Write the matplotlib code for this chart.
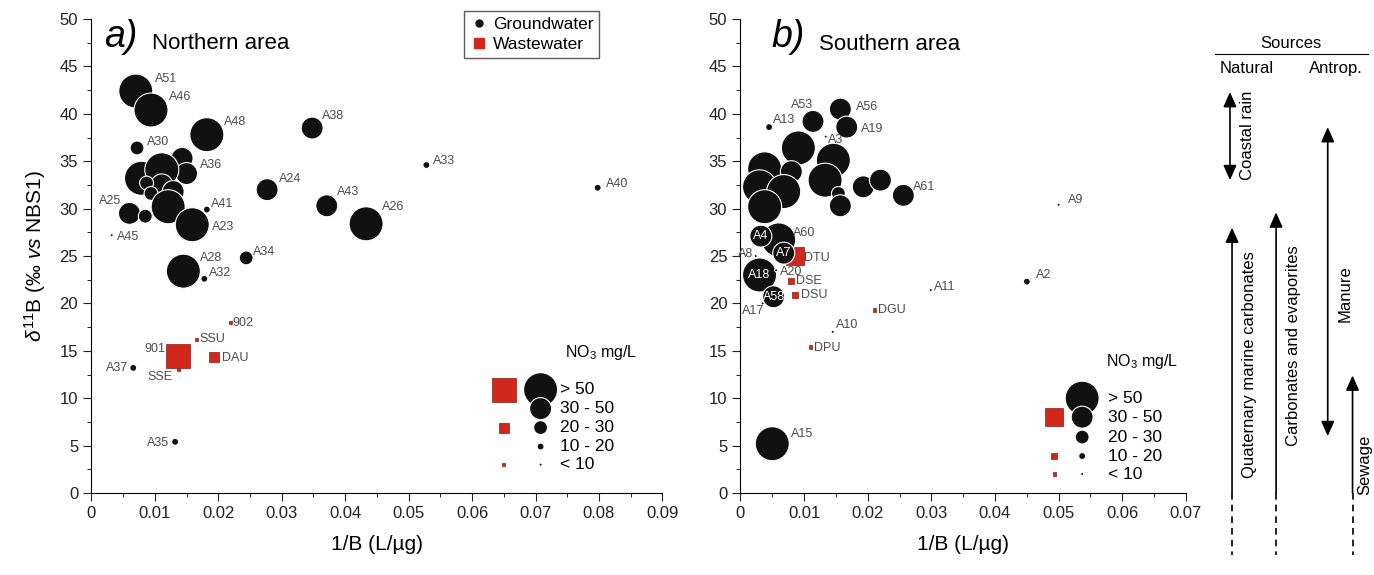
import numpy as np
import matplotlib.pyplot as plt
from matplotlib.ticker import MultipleLocator, FuncFormatter
from matplotlib.lines import Line2D

plt.rcParams['font.family'] = ['Liberation Sans', 'DejaVu Sans']
plt.rcParams['mathtext.fontset'] = 'custom'
plt.rcParams['mathtext.rm'] = 'Liberation Sans'
plt.rcParams['mathtext.it'] = 'Liberation Sans:italic'

# NO3 classes (index used by the points below)
no3_classes = ['> 50', '30 - 50', '20 - 30', '10 - 20', '< 10']

# ---- a) Northern area ----
gw_a_lab = ['A51', 'A46', 'A48', 'A38', 'A30', '', 'A36', '', '', '', '', '', '', '',
            'A25', '', 'A41', 'A23', 'A45', 'A28', 'A32', 'A34', 'A24', 'A43', 'A26',
            'A33', 'A40', 'A37', 'A35']
gw_a_x = [0.0070, 0.0094, 0.0182, 0.0348, 0.0072, 0.0143, 0.0150, 0.0079, 0.0111, 0.0111,
          0.0087, 0.0094, 0.0129, 0.0121, 0.0060, 0.0085, 0.0182, 0.0159, 0.0032, 0.0145,
          0.0178, 0.0244, 0.0277, 0.0371, 0.0433, 0.0528, 0.0798, 0.0066, 0.0132]
gw_a_y = [42.4, 40.4, 37.8, 38.5, 36.4, 35.3, 33.7, 33.2, 34.1, 32.5, 32.7, 31.6, 31.8, 30.2,
          29.5, 29.2, 29.9, 28.3, 27.2, 23.4, 22.6, 24.8, 32.0, 30.3, 28.4, 34.6, 32.2,
          13.2, 5.4]
gw_a_cls = [0, 0, 0, 1, 2, 1, 1, 0, 0, 1, 2, 2, 1, 0, 1, 2, 3, 0, 4, 0, 3, 2, 1, 1, 0,
            3, 3, 3, 3]

ww_a_lab = ['902', 'SSU', '901', 'DAU', 'SSE']
ww_a_x = [0.0219, 0.0165, 0.0136, 0.0194, 0.0137]
ww_a_y = [18.0, 16.2, 14.5, 14.3, 13.0]
ww_a_cls = [4, 4, 0, 2, 4]

# ---- b) Southern area ----
gw_b_lab = ['A8', 'A17', 'A13', 'A53', 'A56', 'A19', '', '', '', '', '', '', '', '', '',
            '', '', 'A61', '', 'A60', 'A4', 'A7', 'A18', 'A20', 'A58', 'A3', 'A11', 'A10',
            'A15', 'A2', 'A9']
gw_b_x = [0.0024, 0.0035, 0.0045, 0.0114, 0.0157, 0.0167, 0.0091, 0.0146, 0.0038, 0.0080,
          0.0133, 0.0030, 0.0068, 0.0154, 0.0157, 0.0193, 0.0220, 0.0256, 0.0038, 0.0060,
          0.0032, 0.0068, 0.0030, 0.0056, 0.0052, 0.0134, 0.0299, 0.0145, 0.0050, 0.0450,
          0.0500]
gw_b_y = [25.0, 20.0, 38.6, 39.2, 40.5, 38.6, 36.4, 35.1, 34.2, 33.9, 33.0, 32.3, 31.8,
          31.6, 30.3, 32.3, 33.0, 31.4, 30.2, 26.7, 27.1, 25.3, 23.0, 23.5, 20.7, 37.6,
          21.4, 17.0, 5.2, 22.3, 30.4]
gw_b_cls = [4, 4, 3, 1, 1, 1, 0, 0, 0, 1, 0, 0, 0, 2, 1, 1, 1, 1, 0, 0, 1, 1, 0, 4, 1, 4,
            4, 4, 0, 3, 4]

ww_b_lab = ['DTU', 'DSE', 'DSU', 'DGU', 'DPU']
ww_b_x = [0.0086, 0.0080, 0.0085, 0.0210, 0.0110]
ww_b_y = [25.0, 22.4, 20.9, 19.3, 15.4]
ww_b_cls = [1, 3, 3, 4, 4]

# ---- sources (d11B ranges) ----
src_names = ['Coastal rain', 'Quaternary marine carbonates', 'Carbonates and evaporites',
             'Manure', 'Sewage']
src_low = [33.0, 0.0, 0.0, 6.0, 0.0]
src_high = [42.3, 28.0, 29.6, 38.6, 12.4]
src_both = [True, False, False, True, False]

# ---- styles ----
circ_s = [600, 250, 100, 25, 5]
sq_s = [300, 168, 52, 19, 5]
red = '#d2281c'
lab_col = '#4a4a4a'

lab_off = {
    'A51': (19, 12, 'left'), 'A46': (18, 13, 'left'), 'A48': (17, 13, 'left'),
    'A38': (10, 12, 'left'), 'A30': (10, 6, 'left'), 'A36': (13, 9, 'left'),
    'A24': (12, 11, 'left'), 'A43': (10, 14, 'left'), 'A25': (-8, 12, 'right'),
    'A41': (4, 6, 'left'), 'A23': (20, -2, 'left'), 'A45': (5, -2, 'left'),
    'A28': (17, 13, 'left'), 'A32': (5, 6, 'left'), 'A34': (7, 6, 'left'),
    'A33': (7, 4, 'left'), 'A40': (8, 4, 'left'), 'A26': (16, 17, 'left'),
    'A37': (-5, 0, 'right'), 'A35': (-6, -1, 'right'), '902': (2, -1, 'left'),
    'SSU': (3, 0, 'left'), '901': (-12, 7, 'right'), 'DAU': (8, -1, 'left'),
    'SSE': (-6, -7, 'right'),
    'A13': (4, 7, 'left'), 'A53': (0, 16, 'right'), 'A56': (16, 2, 'left'),
    'A19': (14, -2, 'left'), 'A3': (2, -3, 'left'), 'A61': (10, 8, 'left'),
    'A60': (14, 7, 'left'), 'DTU': (9, -2, 'left'), 'A8': (-3, 2, 'right'),
    'A20': (4, -2, 'left'), 'DSE': (5, 0, 'left'), 'DSU': (6, 0, 'left'),
    'A17': (2, -8, 'right'), 'A11': (3, 3, 'left'), 'DGU': (4, 0, 'left'),
    'A10': (3, 7, 'left'), 'DPU': (4, -1, 'left'), 'A15': (19, 10, 'left'),
    'A2': (9, 7, 'left'), 'A9': (9, 5, 'left'),
}
inside = {'A4', 'A7', 'A18', 'A58'}

fig = plt.figure(figsize=(13.74, 5.75), dpi=100)
axa = fig.add_axes([0.0665, 0.1426, 0.4156, 0.8243])
axb = fig.add_axes([0.5389, 0.1426, 0.3242, 0.8243])
axs = fig.add_axes([0.8843, 0.1426, 0.1157, 0.8243])


def draw_panel(ax, gx, gy, gc, gl, wx, wy, wc, wl, xmax):
    ax.scatter(wx, wy, s=[sq_s[c] for c in wc], marker='s', c=red,
               edgecolors='#8a1a12', linewidths=0.5, zorder=2)
    ax.scatter(gx, gy, s=[circ_s[c] for c in gc], marker='o', c='#111111',
               edgecolors='white', linewidths=0.8, zorder=3)
    for x, y, l in list(zip(gx, gy, gl)) + list(zip(wx, wy, wl)):
        if not l:
            continue
        if l in inside:
            ax.annotate(l, (x, y), ha='center', va='center', color='white',
                        fontsize=9, zorder=5)
            continue
        dx, dy, ha = lab_off[l]
        ax.annotate(l, (x, y), xytext=(dx, dy), textcoords='offset pixels',
                    ha=ha, va='center', color=lab_col, fontsize=9, zorder=5)
    ax.set_xlim(0, xmax)
    ax.set_ylim(0, 50)
    ax.spines['top'].set_visible(False)
    ax.spines['right'].set_visible(False)
    ax.xaxis.set_major_locator(MultipleLocator(0.01))
    ax.xaxis.set_minor_locator(MultipleLocator(0.005))
    ax.yaxis.set_major_locator(MultipleLocator(5))
    ax.yaxis.set_minor_locator(MultipleLocator(2.5))
    ax.xaxis.set_major_formatter(FuncFormatter(lambda v, p: '0' if abs(v) < 1e-9 else f'{v:.2f}'))
    ax.tick_params(which='major', direction='out', length=6, labelsize=12, colors='#222222')
    ax.tick_params(which='minor', direction='out', length=3)
    ax.set_xlabel('1/B (L/\u00b5g)', fontsize=15, labelpad=10)
    for c in ax.collections:
        c.set_clip_on(False)


def no3_legend(ax, xc, xs, xt, rows, red_cls, title_xy):
    ax.scatter([xc] * 5, rows, s=circ_s, c='#111111', edgecolors='white',
               linewidths=0.8, zorder=3, clip_on=False)
    ax.scatter([xs] * len(red_cls), [rows[c] for c in red_cls],
               s=[sq_s[c] for c in red_cls], marker='s', c=red,
               edgecolors='#8a1a12', linewidths=0.5, zorder=2)
    for r, t in zip(rows, no3_classes):
        ax.text(xt, r, t, ha='left', va='center', fontsize=12.5)
    ax.text(title_xy[0], title_xy[1], 'NO$_3$ mg/L', ha='left', va='center', fontsize=11.5)


draw_panel(axa, gw_a_x, gw_a_y, gw_a_cls, gw_a_lab, ww_a_x, ww_a_y, ww_a_cls, ww_a_lab, 0.09)
draw_panel(axb, gw_b_x, gw_b_y, gw_b_cls, gw_b_lab, ww_b_x, ww_b_y, ww_b_cls, ww_b_lab, 0.07)
axa.set_ylabel('$\\delta^{11}$B (\u2030 $\\it{vs}$ NBS1)', fontsize=15, labelpad=8)

no3_legend(axa, 0.0708, 0.0650, 0.0739, [10.9, 8.9, 6.9, 4.9, 3.0], [0, 2, 4], (0.0747, 14.8))
no3_legend(axb, 0.0537, 0.0493, 0.0578, [10.0, 8.0, 5.9, 3.9, 2.0], [1, 3, 4], (0.0575, 13.9))

axa.text(0.022, 0.962, 'a)', transform=axa.transAxes, fontsize=27, style='italic',
         ha='left', va='center')
axa.text(0.106, 0.948, 'Northern area', transform=axa.transAxes, fontsize=16,
         ha='left', va='center')
axb.text(0.070, 0.962, 'b)', transform=axb.transAxes, fontsize=27, style='italic',
         ha='left', va='center')
axb.text(0.176, 0.946, 'Southern area', transform=axb.transAxes, fontsize=16,
         ha='left', va='center')

handles = [Line2D([], [], marker='o', ls='', color='#111111', ms=5, label='Groundwater'),
           Line2D([], [], marker='s', ls='', color=red, ms=7, label='Wastewater')]
axa.legend(handles=handles, loc='upper right', bbox_to_anchor=(0.905, 1.035), fontsize=12.5,
           frameon=True, fancybox=False, edgecolor='#333333', handletextpad=0.3,
           borderpad=0.35, labelspacing=0.25, handlelength=1.0)

# sources schematic
src_x = [0.094, 0.107, 0.384, 0.709, 0.865]
axs.set_xlim(0, 1)
axs.set_ylim(0, 50)
axs.axis('off')
axs.plot([0.0, 0.96], [46.3, 46.3], color='k', lw=0.8, clip_on=False)
axs.text(0.48, 47.4, 'Sources', ha='center', va='center', fontsize=12)
axs.text(0.2, 44.8, 'Natural', ha='center', va='center', fontsize=12)
axs.text(0.76, 44.8, 'Antrop.', ha='center', va='center', fontsize=12)
lab_y = [37.7, 13.5, 15.5, 21.0, 3.0]
lab_dx = [0.11, 0.11, 0.11, 0.11, 0.08]
for x, name, lo, hi, both, ly, ldx in zip(src_x, src_names, src_low, src_high, src_both,
                                           lab_y, lab_dx):
    style = '<|-|>' if both else '-|>'
    axs.annotate('', xy=(x, hi), xytext=(x, lo),
                 arrowprops=dict(arrowstyle=style + ',head_length=0.45,head_width=0.2',
                                 mutation_scale=20, color='k', lw=1.2,
                                 shrinkA=0, shrinkB=0), annotation_clip=False)
    if not both:
        axs.plot([x, x], [lo, -6.5], color='k', lw=1.2, ls=(0, (4, 3)), clip_on=False)
    axs.text(x + ldx, ly, name, rotation=90, ha='center', va='center', fontsize=12)

fig.savefig('out.png', dpi=100)
